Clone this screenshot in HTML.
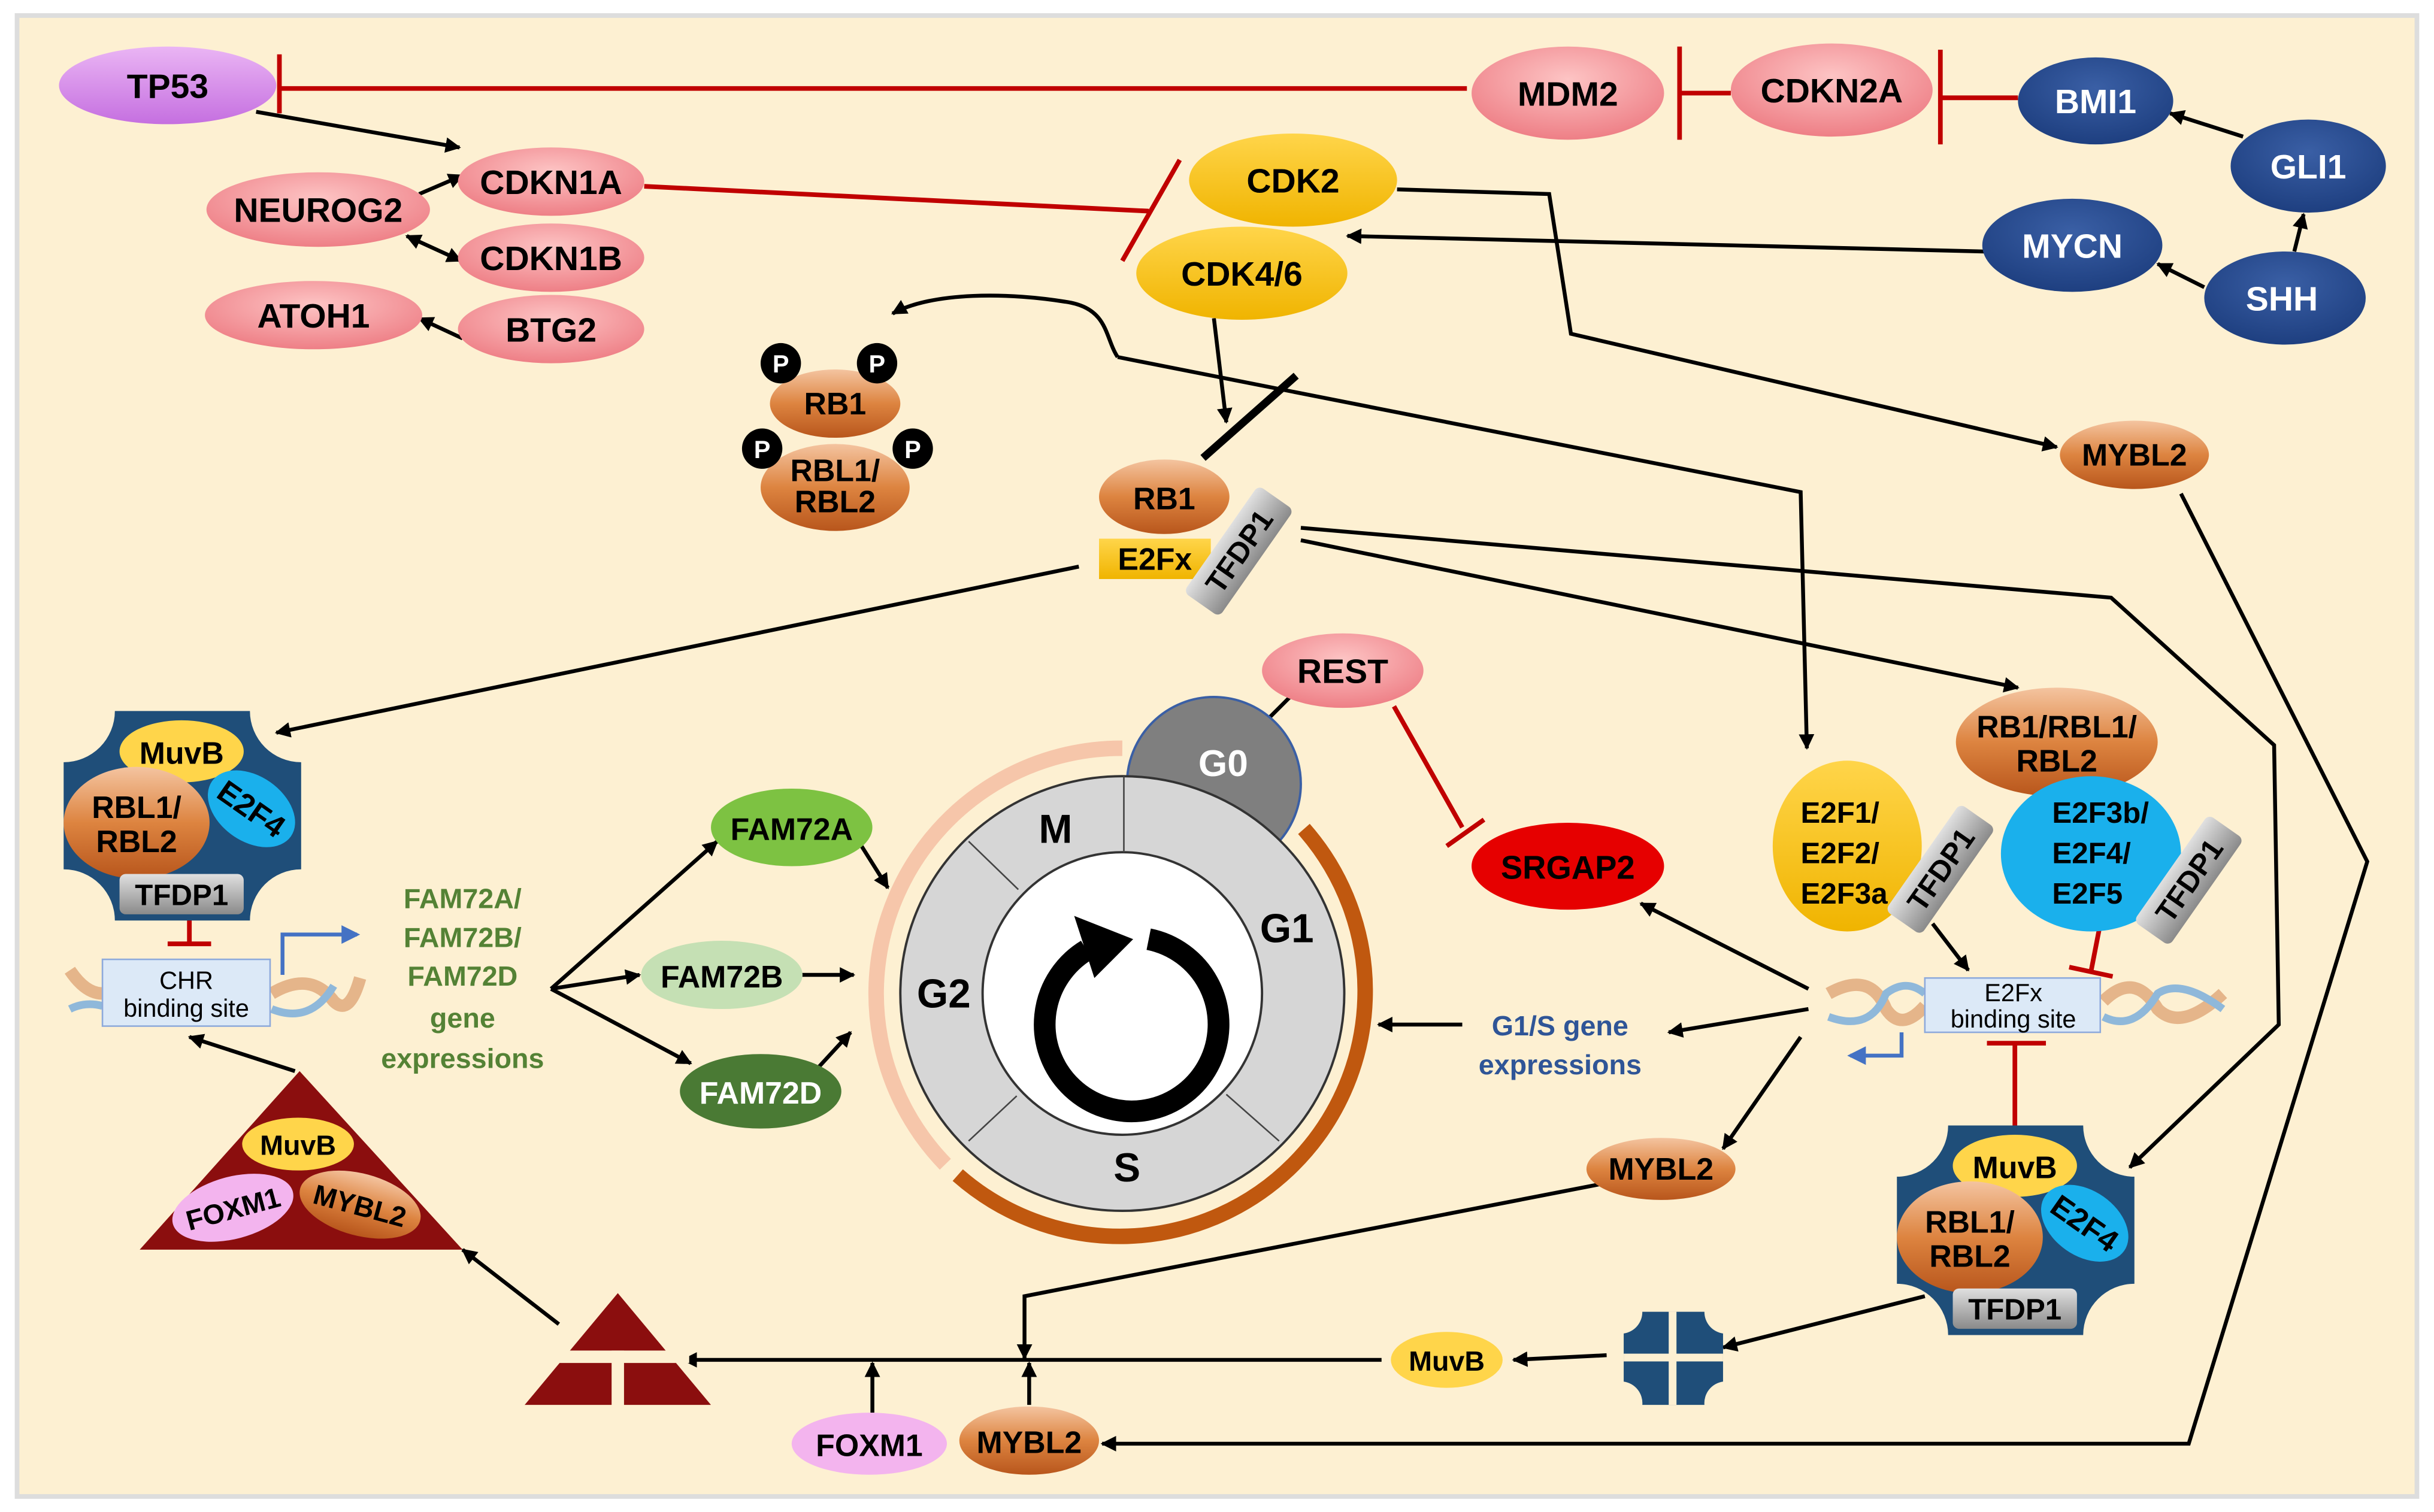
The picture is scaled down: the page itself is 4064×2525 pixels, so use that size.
<!DOCTYPE html>
<html><head><meta charset="utf-8"><style>
html,body{margin:0;padding:0;background:#fff;}
svg{display:block;}
text{font-family:"Liberation Sans",sans-serif;font-weight:bold;}
</style></head><body>
<svg width="4064" height="2525" viewBox="0 0 1568 974" preserveAspectRatio="none" xmlns="http://www.w3.org/2000/svg">
<defs>
<radialGradient id="pk" cx="50%" cy="35%" r="65%"><stop offset="0" stop-color="#fdc4c4"/><stop offset="1" stop-color="#ee7f86"/></radialGradient>
<radialGradient id="bl" cx="50%" cy="35%" r="65%"><stop offset="0" stop-color="#3a5fa5"/><stop offset="1" stop-color="#1e3f80"/></radialGradient>
<linearGradient id="yl" x1="0" y1="0" x2="0" y2="1"><stop offset="0" stop-color="#ffd54a"/><stop offset="1" stop-color="#f0b400"/></linearGradient>
<linearGradient id="or" x1="0" y1="0" x2="0" y2="1"><stop offset="0" stop-color="#f4c4a0"/><stop offset="0.5" stop-color="#dd8440"/><stop offset="1" stop-color="#b8561c"/></linearGradient>
<linearGradient id="pu" x1="0" y1="0" x2="0" y2="1"><stop offset="0" stop-color="#eab5f4"/><stop offset="1" stop-color="#c56fe0"/></linearGradient>
<linearGradient id="gr" x1="0" y1="0" x2="0" y2="1"><stop offset="0" stop-color="#e0e0e0"/><stop offset="1" stop-color="#8a8a8a"/></linearGradient>
<marker id="a" markerWidth="10" markerHeight="10" refX="9" refY="5" orient="auto-start-reverse" markerUnits="userSpaceOnUse"><path d="M0,0 L10,5 L0,10 Z" fill="#000"/></marker>
<marker id="ab" markerWidth="12" markerHeight="12" refX="10" refY="6" orient="auto" markerUnits="userSpaceOnUse"><path d="M0,0 L12,6 L0,12 Z" fill="#4472c4"/></marker>
</defs>
<rect x="0" y="0" width="1568" height="974" fill="#fff"/>
<rect x="11" y="10" width="1546" height="954" fill="#fdf0d2" stroke="#ddd" stroke-width="3"/>

<!-- red inhibition lines -->
<g stroke="#c00000" stroke-width="3" fill="none">
<line x1="945" y1="57" x2="180" y2="57"/><line x1="180" y1="35" x2="180" y2="73"/>
<line x1="1115" y1="60" x2="1082" y2="60"/><line x1="1082" y1="30" x2="1082" y2="90"/>
<line x1="1300" y1="63" x2="1250" y2="63"/><line x1="1250" y1="32" x2="1250" y2="93"/>
<line x1="415" y1="120" x2="740" y2="136"/><line x1="723" y1="168" x2="760" y2="103"/>
<line x1="898" y1="455" x2="942" y2="533"/><line x1="932" y1="545" x2="956" y2="528"/>
<line x1="122" y1="590" x2="122" y2="608"/><line x1="108" y1="608" x2="136" y2="608"/>
<line x1="1354" y1="590" x2="1347" y2="626"/><line x1="1333" y1="623" x2="1361" y2="629"/>
<line x1="1298" y1="725" x2="1298" y2="672"/><line x1="1280" y1="672" x2="1318" y2="672"/>
</g>

<!-- black arrows -->
<g stroke="#000" stroke-width="2.5" fill="none" marker-end="url(#a)">
<line x1="165" y1="72" x2="296" y2="95"/>
<line x1="270" y1="125" x2="298" y2="113"/>
<line x1="298" y1="218" x2="270" y2="205"/>
<line x1="1278" y1="162" x2="868" y2="152"/>
<line x1="1445" y1="88" x2="1398" y2="73"/>
<line x1="1478" y1="162" x2="1484" y2="138"/>
<line x1="1420" y1="185" x2="1390" y2="170"/>
<path d="M900,122 L998,125 L1012,215 L1325,288"/>
<path d="M720,230 L1160,317 L1164,482"/>
<path d="M720,230 C712,218 714,200 690,195 C650,188 600,188 575,202"/>
<line x1="782" y1="205" x2="790" y2="272"/>
<line x1="695" y1="365" x2="178" y2="472"/>
<line x1="838" y1="348" x2="1300" y2="443"/>
<path d="M838,340 L1360,385 L1465,480 L1468,660 L1372,752"/>
<path d="M1405,318 L1525,555 L1410,930 L710,930"/>
<line x1="835" y1="445" x2="810" y2="470"/>
<line x1="1245" y1="595" x2="1268" y2="625"/>
<line x1="1165" y1="637" x2="1057" y2="582"/>
<line x1="1165" y1="650" x2="1075" y2="665"/>
<line x1="942" y1="660" x2="888" y2="660"/>
<line x1="1160" y1="668" x2="1110" y2="740"/>
<path d="M1030,763 L660,835 L660,875"/>
<line x1="1240" y1="835" x2="1110" y2="868"/>
<line x1="1035" y1="873" x2="975" y2="876"/>
<line x1="890" y1="876" x2="440" y2="876"/>
<line x1="562" y1="910" x2="562" y2="878"/>
<line x1="663" y1="905" x2="663" y2="878"/>
<line x1="360" y1="853" x2="298" y2="805"/>
<line x1="190" y1="690" x2="122" y2="668"/>
<line x1="355" y1="637" x2="462" y2="542"/>
<line x1="355" y1="637" x2="412" y2="628"/>
<line x1="355" y1="637" x2="445" y2="685"/>
<line x1="555" y1="545" x2="572" y2="572"/>
<line x1="515" y1="628" x2="550" y2="628"/>
<line x1="525" y1="690" x2="548" y2="665"/>
</g>
<path d="M262,152 L297,168" stroke="#000" stroke-width="2.5" marker-start="url(#a)" marker-end="url(#a)" fill="none"/>
<line x1="775" y1="295" x2="835" y2="242" stroke="#000" stroke-width="5"/>

<!-- top ellipses -->
<ellipse cx="108" cy="55" rx="70" ry="25" fill="url(#pu)"/><text x="108" y="63" font-size="22" text-anchor="middle">TP53</text>
<ellipse cx="1010" cy="60" rx="62" ry="30" fill="url(#pk)"/><text x="1010" y="68" font-size="22" text-anchor="middle">MDM2</text>
<ellipse cx="1180" cy="58" rx="65" ry="30" fill="url(#pk)"/><text x="1180" y="66" font-size="22" text-anchor="middle">CDKN2A</text>
<g fill="url(#bl)"><ellipse cx="1350" cy="65" rx="50" ry="28"/><ellipse cx="1487" cy="107" rx="50" ry="30"/><ellipse cx="1335" cy="158" rx="58" ry="30"/><ellipse cx="1472" cy="192" rx="52" ry="30"/></g>
<g fill="#fff" font-size="22" text-anchor="middle"><text x="1350" y="73">BMI1</text><text x="1487" y="115">GLI1</text><text x="1335" y="166">MYCN</text><text x="1470" y="200">SHH</text></g>
<g fill="url(#pk)"><ellipse cx="355" cy="117" rx="60" ry="22"/><ellipse cx="205" cy="135" rx="72" ry="24"/><ellipse cx="355" cy="166" rx="60" ry="22"/><ellipse cx="202" cy="203" rx="70" ry="22"/><ellipse cx="355" cy="212" rx="60" ry="22"/><ellipse cx="865" cy="432" rx="52" ry="24"/><ellipse cx="560" cy="930" rx="50" ry="20" fill="#f3b4ee"/></g>
<g font-size="22" text-anchor="middle"><text x="355" y="125">CDKN1A</text><text x="205" y="143">NEUROG2</text><text x="355" y="174">CDKN1B</text><text x="202" y="211">ATOH1</text><text x="355" y="220">BTG2</text><text x="865" y="440">REST</text><text x="560" y="938" font-size="20">FOXM1</text></g>
<g fill="url(#yl)"><ellipse cx="833" cy="116" rx="67" ry="30"/><ellipse cx="800" cy="176" rx="68" ry="30"/></g>
<g font-size="22" text-anchor="middle"><text x="833" y="124">CDK2</text><text x="800" y="184">CDK4/6</text></g>

<!-- RB1 groups -->
<g fill="url(#or)"><ellipse cx="538" cy="260" rx="42" ry="22"/><ellipse cx="538" cy="314" rx="48" ry="28"/><ellipse cx="750" cy="320" rx="42" ry="24"/><ellipse cx="1375" cy="293" rx="48" ry="22"/><ellipse cx="1070" cy="753" rx="48" ry="20"/><ellipse cx="663" cy="928" rx="45" ry="22"/><ellipse cx="1325" cy="478" rx="65" ry="35"/></g>
<g fill="#000"><circle cx="503" cy="234" r="13"/><circle cx="565" cy="234" r="13"/><circle cx="491" cy="289" r="13"/><circle cx="588" cy="289" r="13"/></g>
<g fill="#fff" font-size="16" text-anchor="middle"><text x="503" y="240">P</text><text x="565" y="240">P</text><text x="491" y="295">P</text><text x="588" y="295">P</text></g>
<g font-size="20" text-anchor="middle"><text x="538" y="267">RB1</text><text x="538" y="310">RBL1/</text><text x="538" y="330">RBL2</text><text x="750" y="328">RB1</text><text x="1375" y="300">MYBL2</text><text x="1070" y="760">MYBL2</text><text x="663" y="936">MYBL2</text><text x="1325" y="475">RB1/RBL1/</text><text x="1325" y="497">RBL2</text></g>
<rect x="708" y="347" width="72" height="26" fill="url(#yl)"/><text x="744" y="367" font-size="20" text-anchor="middle">E2Fx</text>
<g transform="translate(798,355) rotate(-55)"><rect x="-42" y="-14" width="84" height="28" rx="4" fill="url(#gr)"/><text x="0" y="7" font-size="19" text-anchor="middle">TFDP1</text></g>

<!-- cell cycle -->
<path d="M840,534 A158,158 0 0 1 617,757" stroke="#c0580f" stroke-width="10" fill="none"/>
<path d="M609,750 A158,158 0 0 1 723,482" stroke="#f6c6aa" stroke-width="10" fill="none"/>
<circle cx="782" cy="505" r="56" fill="#7f7f7f" stroke="#3a5fa5" stroke-width="1.5"/>
<text x="788" y="500" font-size="24" fill="#fff" text-anchor="middle">G0</text>
<ellipse cx="723" cy="640" rx="143" ry="140" fill="#d6d6d6" stroke="#333" stroke-width="1.5"/>
<ellipse cx="723" cy="640" rx="90" ry="91" fill="#fff" stroke="#333" stroke-width="1.5"/>
<g stroke="#444" stroke-width="1"><line x1="724" y1="500" x2="724" y2="549"/><line x1="624" y1="542" x2="656" y2="573"/><line x1="624" y1="735" x2="655" y2="706"/><line x1="824" y1="735" x2="790" y2="705"/></g>
<path d="M740,605 A56,56 0 1 1 700,612" stroke="#000" stroke-width="14" fill="none"/>
<path d="M692,590 L730,605 L705,630 Z" fill="#000"/>
<g font-size="26" text-anchor="middle"><text x="680" y="543">M</text><text x="829" y="607">G1</text><text x="726" y="761">S</text><text x="608" y="649">G2</text></g>

<!-- SRGAP2 -->
<ellipse cx="1010" cy="558" rx="62" ry="28" fill="#e60000"/><text x="1010" y="566" font-size="21" text-anchor="middle">SRGAP2</text>

<!-- right E2F -->
<ellipse cx="1190" cy="545" rx="48" ry="55" fill="url(#yl)"/>
<g font-size="19"><text x="1160" y="530">E2F1/</text><text x="1160" y="556">E2F2/</text><text x="1160" y="582">E2F3a</text></g>
<ellipse cx="1347" cy="550" rx="58" ry="50" fill="#1ab0ec"/>
<g font-size="19"><text x="1322" y="530">E2F3b/</text><text x="1322" y="556">E2F4/</text><text x="1322" y="582">E2F5</text></g>
<g transform="translate(1250,560) rotate(-55)"><rect x="-42" y="-14" width="84" height="28" rx="4" fill="url(#gr)"/><text x="0" y="7" font-size="19" text-anchor="middle">TFDP1</text></g>
<g transform="translate(1410,567) rotate(-55)"><rect x="-42" y="-14" width="84" height="28" rx="4" fill="url(#gr)"/><text x="0" y="7" font-size="19" text-anchor="middle">TFDP1</text></g>

<!-- DNA right -->
<g stroke="#e5b58a" stroke-width="8" fill="none"><path d="M1178,640 Q1205,625 1215,650 Q1225,665 1240,648"/><path d="M1355,645 Q1375,625 1390,650 Q1405,665 1432,640"/></g>
<g stroke="#8fb8da" stroke-width="5" fill="none"><path d="M1178,655 Q1205,665 1215,640 Q1228,630 1240,640"/><path d="M1355,655 Q1375,665 1390,640 Q1405,630 1432,650"/></g>
<rect x="1240" y="630" width="113" height="35" fill="#dce9f7" stroke="#8eaadb"/>
<text x="1297" y="645" font-size="16" text-anchor="middle" style="font-weight:normal">E2Fx</text>
<text x="1297" y="662" font-size="16" text-anchor="middle" style="font-weight:normal">binding site</text>
<path d="M1225,665 L1225,680 L1192,680" stroke="#4472c4" stroke-width="2.5" fill="none" marker-end="url(#ab)"/>
<text x="1005" y="667" font-size="18" fill="#2f5597" text-anchor="middle">G1/S gene</text>
<text x="1005" y="692" font-size="18" fill="#2f5597" text-anchor="middle">expressions</text>

<!-- DREAM complexes -->
<g id="dream">
<path d="M74,458 L161,458 A33,33 0 0 0 194,491 L194,560 A33,33 0 0 0 161,593 L74,593 A33,33 0 0 0 41,560 L41,491 A33,33 0 0 0 74,458 Z" fill="#1f4e79"/>
<ellipse cx="117" cy="484" rx="40" ry="20" fill="#ffd54a"/>
<text x="117" y="492" font-size="20" text-anchor="middle">MuvB</text>
<ellipse cx="88" cy="530" rx="47" ry="36" fill="url(#or)"/>
<text x="88" y="527" font-size="20" text-anchor="middle">RBL1/</text><text x="88" y="549" font-size="20" text-anchor="middle">RBL2</text>
<g transform="translate(162,521) rotate(35)"><ellipse cx="0" cy="0" rx="31" ry="21" fill="#1ab0ec"/><text x="0" y="7" font-size="20" text-anchor="middle">E2F4</text></g>
<rect x="77" y="563" width="80" height="26" rx="4" fill="url(#gr)"/><text x="117" y="583" font-size="19" text-anchor="middle">TFDP1</text>
</g>
<use href="#dream" transform="translate(1181,267)"/>

<!-- CHR -->
<g stroke="#e5b58a" stroke-width="8" fill="none"><path d="M45,625 Q55,640 66,640"/><path d="M175,640 Q200,625 215,645 Q225,655 232,630"/></g>
<g stroke="#8fb8da" stroke-width="5" fill="none"><path d="M45,650 Q55,645 66,648"/><path d="M175,650 Q200,660 215,635"/></g>
<rect x="66" y="618" width="108" height="43" fill="#dce9f7" stroke="#8eaadb"/>
<text x="120" y="637" font-size="16" text-anchor="middle" style="font-weight:normal">CHR</text>
<text x="120" y="655" font-size="16" text-anchor="middle" style="font-weight:normal">binding site</text>
<path d="M182,628 L182,602 L230,602" stroke="#4472c4" stroke-width="2.5" fill="none" marker-end="url(#ab)"/>
<g font-size="18" fill="#548235" text-anchor="middle"><text x="298" y="585">FAM72A/</text><text x="298" y="610">FAM72B/</text><text x="298" y="635">FAM72D</text><text x="298" y="662">gene</text><text x="298" y="688">expressions</text></g>
<ellipse cx="510" cy="533" rx="52" ry="25" fill="#7dc242"/><text x="510" y="541" font-size="20" text-anchor="middle">FAM72A</text>
<ellipse cx="465" cy="628" rx="52" ry="22" fill="#c5e0b4"/><text x="465" y="636" font-size="20" text-anchor="middle">FAM72B</text>
<ellipse cx="490" cy="703" rx="52" ry="24" fill="#4a7a34"/><text x="490" y="711" font-size="20" fill="#fff" text-anchor="middle">FAM72D</text>

<!-- triangles -->
<path d="M90,805 L193,690 L298,805 Z" fill="#8b0e0e"/>
<ellipse cx="192" cy="737" rx="36" ry="17" fill="#ffd54a"/><text x="192" y="744" font-size="18" text-anchor="middle">MuvB</text>
<g transform="translate(150,778) rotate(-15)"><ellipse rx="40" ry="20" fill="#f3b4ee"/><text y="7" font-size="18" text-anchor="middle">FOXM1</text></g>
<g transform="translate(232,776) rotate(15)"><ellipse rx="40" ry="20" fill="url(#or)"/><text y="7" font-size="18" text-anchor="middle">MYBL2</text></g>
<path d="M338,905 L398,833 L458,905 Z" fill="#8b0e0e"/>
<rect x="352" y="870" width="92" height="8" fill="#fdf0d2"/><rect x="394" y="870" width="8" height="36" fill="#fdf0d2"/>
<ellipse cx="932" cy="876" rx="36" ry="18" fill="#ffd54a"/><text x="932" y="883" font-size="18" text-anchor="middle">MuvB</text>
<path d="M1058,845 L1098,845 A14,14 0 0 0 1110,859 L1110,890 A14,14 0 0 0 1098,905 L1058,905 A14,14 0 0 0 1046,890 L1046,859 A14,14 0 0 0 1058,845 Z" fill="#1f4e79"/>
<rect x="1046" y="872" width="64" height="5" fill="#fdf0d2"/><rect x="1075" y="845" width="5" height="60" fill="#fdf0d2"/>
</svg>
</body></html>
